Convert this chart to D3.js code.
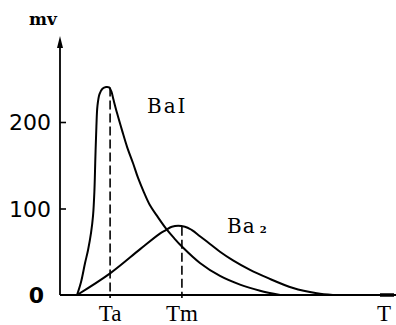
<!DOCTYPE html>
<html>
<head>
<meta charset="utf-8">
<script src="https://cdn.jsdelivr.net/npm/d3@7"></script>
<style>
  body { margin: 0; background: #fff; }
  svg { display: block; }
</style>
</head>
<body>
<svg id="chart" width="396" height="325"></svg>
<script>
// values (t = arbitrary time units 0..100, mv)
let baIT = [5.1, 6.3, 7.5, 8.4, 9.3, 9.9, 10.3, 10.6, 10.9, 11.2, 11.8, 12.7, 13.8, 14.7, 15.4, 16.0, 17.1, 18.6, 20.1, 21.9, 23.4, 25.1, 26.9, 29.3, 31.7, 34.1, 36.5, 41.9, 47.9, 53.9, 59.9, 65.9];
let baIV = [0, 15, 37, 52, 72, 92, 120, 160, 195, 218, 232, 238.5, 240.5, 240, 235, 226, 210, 190, 171, 152, 135, 119, 104, 90, 77, 66, 56, 37, 22, 12, 5, 0];

let ba2T = [5.1, 15.0, 24.0, 29.9, 31.7, 33.5, 37.4, 39.5, 41.9, 44.9, 47.9, 51.8, 56.9, 62.0, 69.8, 76.9, 81.7];
let ba2V = [0, 25, 53, 71, 75, 79, 79, 75, 68, 59, 50, 40, 29, 20, 8, 2, 0];

let yTicks = [0, 100, 200];
let xMarks = [
  { t: 15.0, label: "Ta", top: 240 },
  { t: 36.5, label: "Tm", top: 79 },
  { t: 97.0, label: "T", top: null }
];

drawChart();

function drawChart() {
  let svg = d3.select("#chart");

  let xScale = d3.scaleLinear().domain([0, 100]).range([60, 394]);
  let yScale = d3.scaleLinear().domain([0, 200]).range([295, 122]);

  // x axis line
  svg.append("line")
    .attr("x1", 60).attr("x2", 396)
    .attr("y1", yScale(0)).attr("y2", yScale(0))
    .attr("stroke", "black").attr("stroke-width", 2);
  svg.append("line")
    .attr("x1", 380).attr("x2", 394)
    .attr("y1", yScale(0)).attr("y2", yScale(0))
    .attr("stroke", "black").attr("stroke-width", 3.5);

  // y axis
  let yAxis = d3.axisRight(yScale)
    .tickValues(yTicks)
    .tickSize(6)
    .tickFormat("");
  let gy = svg.append("g")
    .attr("transform", "translate(60,0)")
    .call(yAxis);
  gy.select(".domain").remove();
  gy.selectAll(".tick line").attr("stroke-width", 1.6)
    .filter((d) => d === 0).remove();

  svg.append("line")
    .attr("x1", 60).attr("x2", 60)
    .attr("y1", yScale(0)).attr("y2", 40)
    .attr("stroke", "black").attr("stroke-width", 1.8);
  svg.append("path")
    .attr("d", "M60,36 L57,48 L63,48 Z")
    .attr("fill", "black");

  // tick labels
  svg.selectAll(".ylab")
    .data(yTicks)
    .enter()
    .append("text")
    .attr("class", "ylab")
    .attr("x", (d) => (d === 0 ? 44 : 51))
    .attr("y", (d) => yScale(d) + 8)
    .attr("text-anchor", "end")
    .style("font-family", "DejaVu Sans")
    .style("font-size", "22px")
    .style("font-weight", (d) => (d === 0 ? "bold" : "normal"))
    .text((d) => d);

  svg.append("text")
    .attr("x", 43).attr("y", 25)
    .attr("text-anchor", "middle")
    .style("font-family", "DejaVu Serif")
    .style("font-size", "17px")
    .style("font-weight", "bold")
    .text("mv");

  // dashed drop lines
  svg.selectAll(".drop")
    .data(xMarks.filter((d) => d.top !== null))
    .enter()
    .append("line")
    .attr("class", "drop")
    .attr("x1", (d) => xScale(d.t)).attr("x2", (d) => xScale(d.t))
    .attr("y1", (d) => yScale(d.top)).attr("y2", yScale(0) + 3)
    .attr("stroke", "black")
    .attr("stroke-width", 1.6)
    .attr("stroke-dasharray", "9,4");

  svg.selectAll(".xlab")
    .data(xMarks)
    .enter()
    .append("text")
    .attr("class", "xlab")
    .attr("x", (d) => xScale(d.t))
    .attr("y", 321)
    .attr("text-anchor", "middle")
    .style("font-family", "Liberation Serif")
    .style("font-size", "23px")
    .text((d) => d.label);

  // curves
  let line = d3.line()
    .x((d) => xScale(d[0]))
    .y((d) => yScale(d[1]))
    .curve(d3.curveCatmullRom.alpha(0.5));

  svg.append("path")
    .datum(d3.zip(baIT, baIV))
    .attr("d", line)
    .attr("fill", "none")
    .attr("stroke", "black")
    .attr("stroke-width", 2);

  svg.append("path")
    .datum(d3.zip(ba2T, ba2V))
    .attr("d", line)
    .attr("fill", "none")
    .attr("stroke", "black")
    .attr("stroke-width", 2);

  // series labels
  svg.append("text")
    .attr("x", 147).attr("y", 113)
    .style("font-family", "DejaVu Serif")
    .style("font-size", "20px")
    .style("letter-spacing", "2px")
    .text("BaI");

  let t2 = svg.append("text")
    .attr("x", 227).attr("y", 233)
    .style("font-family", "DejaVu Serif")
    .style("font-size", "20px")
    .style("letter-spacing", "1px")
    .text("Ba");
  t2.append("tspan")
    .attr("dx", 4)
    .attr("dy", 0)
    .style("font-size", "10px")
    .style("font-weight", "bold")
    .text("2");
}
</script>
</body>
</html>
